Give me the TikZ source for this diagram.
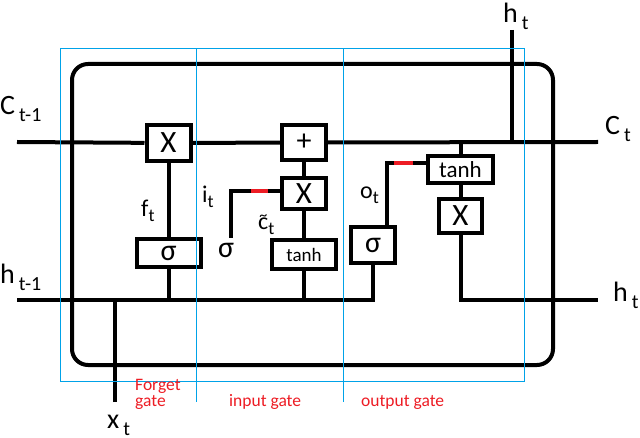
\documentclass[tikz,border=0pt]{standalone}
\usepackage{fontspec}
\setmainfont{Carlito}
\definecolor{gateblue}{RGB}{0,162,232}
\definecolor{gatered}{RGB}{237,28,36}
% big outer labels and the small gate labels
\newcommand{\bigsub}[2]{{\fontsize{28}{30}\selectfont #1}\hspace{4pt}\raisebox{-7pt}{\fontsize{20}{22}\selectfont #2}}
\newcommand{\smallsub}[2]{{\fontsize{24}{26}\selectfont #1}\raisebox{-5pt}{\fontsize{18}{19}\selectfont #2}}
\newcommand{\ctilde}{\ooalign{c\cr\hidewidth\raisebox{0.4em}{\fontsize{16}{16}\selectfont\textasciitilde}\hidewidth}}
\tikzset{
  wire/.style={line width=4pt},
  gatebox/.style={draw, line width=4pt, fill=white, inner sep=0pt},
  redseg/.style={gatered, line width=4pt},
  region/.style={gateblue, line width=1.2pt},
  lbl/.style={inner sep=0pt, anchor=base west},
  gatename/.style={inner sep=0pt, anchor=base west, gatered, font=\fontsize{17.5}{12}\selectfont, align=left}
}
\begin{document}
\begin{tikzpicture}[x=1pt, y=-1pt]
  \useasboundingbox (0,0) rectangle (640,438);
  % cell frame
  \draw[wire, rounded corners=16pt] (72,64) rectangle (553,365);

  % gates
  \node[gatebox, minimum width=44pt, minimum height=36pt, font=\fontsize{31}{32}\selectfont] (fX) at (168.5,143) {X};
  \node[gatebox, minimum width=64pt, minimum height=28pt, font=\fontsize{30}{30}\selectfont] (fS) at (168.5,253) {σ};
  \node[gatebox, minimum width=44pt, minimum height=35pt, font=\fontsize{30}{32}\selectfont] (plus) at (304,142.5) {+};
  \node[gatebox, minimum width=44pt, minimum height=31pt, font=\fontsize{31}{32}\selectfont] (iX) at (304,193.5) {X};
  \node[gatebox, minimum width=64pt, minimum height=29pt, font=\fontsize{19}{20}\selectfont] (iT) at (304,254.5) {tanh};
  \node[gatebox, minimum width=44pt, minimum height=36pt, font=\fontsize{30}{30}\selectfont] (oS) at (373,245) {σ};
  \node[gatebox, minimum width=65pt, minimum height=27pt, font=\fontsize{23}{24}\selectfont] (oT) at (460.5,169.5) {tanh};
  \node[gatebox, minimum width=43pt, minimum height=34pt, font=\fontsize{31}{32}\selectfont] (oX) at (460.5,216) {X};

  \coordinate (cin) at (17,142);
  \coordinate (cout) at (598,142);
  \coordinate (hin) at (17,300);
  \coordinate (hj) at (373,300);
  \coordinate (hout) at (598,300);
  \coordinate (htop) at (512,30);
  \coordinate (cj) at (512,142);
  \coordinate (ct) at (460.5,142);
  \coordinate (xin) at (115,402);
  \coordinate (xj) at (115,300);
  \coordinate (iS) at (231,238);

  % cell state and hidden state
  \draw[wire] (cin) -- (fX) -- (plus) -- (cout);
  \draw[wire] (htop) -- (cj);
  \draw[wire] (ct) -- (oT) -- (oX) |- (hout);
  \draw[wire] (hin) -- (hj) -- (oS);
  \draw[wire] (xin) -- (xj);
  % gate wiring
  \draw[wire] (fX) -- (fS) -- (fS |- hin);
  \draw[wire] (plus) -- (iX) -- (iT) -- (iT |- hin);
  \draw[wire] (iS) |- ([yshift=2.5pt]iX.west);
  \draw[wire] ([xshift=14pt]oS.north) |- ([yshift=6.5pt]oT.west);
  \draw[redseg] (251,191) -- (268,191);
  \draw[redseg] (394,163) -- (413,163);

  % labels
  \node[lbl] (lCin) at (0,115) {\bigsub{C}{t-1}};
  \node[lbl] (lHin) at (0,284) {\bigsub{h}{t-1}};
  \node[lbl] (lCout) at (605,135) {\bigsub{C}{t}};
  \node[lbl] (lHout) at (613,302) {\bigsub{h}{t}};
  \node[lbl] (lHtop) at (503,23) {\bigsub{h}{t}};
  \node[lbl] (lX) at (107,428) {\bigsub{x}{t}};
  \node[lbl] (lf) at (141,217) {\smallsub{f}{t}};
  \node[lbl] (li) at (202,203) {\smallsub{i}{t}};
  \node[lbl] (lo) at (360,199) {\smallsub{o}{t}};
  \node[lbl] (lc) at (258,230) {\smallsub{\ctilde}{t}};
  \node[lbl, font=\fontsize{30}{30}\selectfont] (lS) at (218,258) {σ};

  % gate regions
  \draw[region] (60.5,48.5) rectangle (524.5,381.5);
  \foreach \gx in {196.5,343.5} {
    \draw[region] (\gx,48.5) -- (\gx,402);
  }
  \node[gatename] (nForget) at (135,406) {Forget\\gate};
  \node[gatename] (nInput) at (229,406) {input gate};
  \node[gatename] (nOutput) at (361,406) {output gate};
\end{tikzpicture}
\end{document}
